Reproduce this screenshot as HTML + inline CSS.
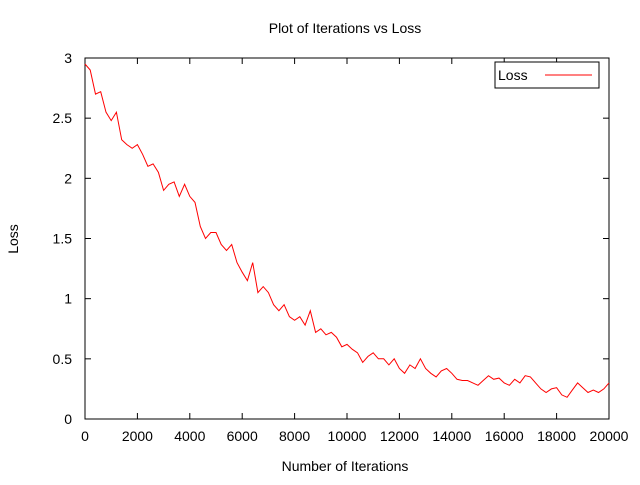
<!DOCTYPE html>
<html><head><meta charset="utf-8"><style>
body{margin:0;background:#fff}
svg text{font-family:"Liberation Sans",sans-serif;font-size:14px;fill:#000}
</style></head><body>
<svg id="chart" width="640" height="480" xmlns="http://www.w3.org/2000/svg">
<rect width="640" height="480" fill="#fff"/>
<text x="345" y="33" text-anchor="middle">Plot of Iterations vs Loss</text>
<text x="345" y="471" text-anchor="middle">Number of Iterations</text>
<text transform="translate(18,239) rotate(-90)" text-anchor="middle">Loss</text>
<g id="axes"></g>
<rect x="85" y="58" width="524" height="361" fill="none" stroke="#000" stroke-width="1"/>
<polyline id="series" fill="none" stroke="#f00" stroke-width="1"/>
<g>
<rect x="495" y="62" width="104" height="26" fill="#fff" stroke="#000"/>
<text x="498" y="80">Loss</text>
<line x1="545" y1="75" x2="592" y2="75" stroke="#f00"/>
</g>
</svg>
<script>
const iterations=[0,200,400,600,800,1000,1200,1400,1600,1800,2000,2200,2400,2600,2800,3000,3200,3400,3600,3800,4000,4200,4400,4600,4800,5000,5200,5400,5600,5800,6000,6200,6400,6600,6800,7000,7200,7400,7600,7800,8000,8200,8400,8600,8800,9000,9200,9400,9600,9800,10000,10200,10400,10600,10800,11000,11200,11400,11600,11800,12000,12200,12400,12600,12800,13000,13200,13400,13600,13800,14000,14200,14400,14600,14800,15000,15200,15400,15600,15800,16000,16200,16400,16600,16800,17000,17200,17400,17600,17800,18000,18200,18400,18600,18800,19000,19200,19400,19600,19800,20000];
const lossValues=[2.95,2.9,2.7,2.72,2.55,2.48,2.55,2.32,2.28,2.25,2.28,2.2,2.1,2.12,2.05,1.9,1.95,1.97,1.85,1.95,1.85,1.8,1.6,1.5,1.55,1.55,1.45,1.4,1.45,1.3,1.22,1.15,1.3,1.05,1.1,1.05,0.95,0.9,0.95,0.85,0.82,0.85,0.78,0.9,0.72,0.75,0.7,0.72,0.68,0.6,0.62,0.58,0.55,0.47,0.52,0.55,0.5,0.5,0.45,0.5,0.42,0.38,0.45,0.42,0.5,0.42,0.38,0.35,0.4,0.42,0.38,0.33,0.32,0.32,0.3,0.28,0.32,0.36,0.33,0.34,0.3,0.28,0.33,0.3,0.36,0.35,0.3,0.25,0.22,0.25,0.26,0.2,0.18,0.24,0.3,0.26,0.22,0.24,0.22,0.25,0.3];
const xTicks=[0,2000,4000,6000,8000,10000,12000,14000,16000,18000,20000];
const yTicks=[0,0.5,1,1.5,2,2.5,3];
const yTickLabels=["0","0.5","1","1.5","2","2.5","3"];
const X0=85,X1=609,Y0=419,Y1=58;
const sx=v=>X0+(v-0)/20000*(X1-X0);
const sy=v=>Y0-(v-0)/3*(Y0-Y1);
const NS="http://www.w3.org/2000/svg";
const axes=document.getElementById('axes');
function mk(tag,attrs){const e=document.createElementNS(NS,tag);for(const k in attrs)e.setAttribute(k,attrs[k]);return e;}
xTicks.forEach(t=>{
  const x=sx(t);
  const a=mk('line',{x1:x,y1:Y0,x2:x,y2:Y0-6,stroke:'#000'});
  
  
  axes.appendChild(a);
  const b=mk('line',{x1:x,y1:Y1,x2:x,y2:Y1+6,stroke:'#000'});
  
  
  axes.appendChild(b);
  const tx=mk('text',{x:x,y:441,'text-anchor':'middle'});
  tx.textContent=String(t);
  
  
  axes.appendChild(tx);
});
yTicks.forEach((t,i)=>{
  const y=sy(t);
  const a=mk('line',{x1:X0,y1:y,x2:X0+6,y2:y,stroke:'#000'});
  
  
  axes.appendChild(a);
  const b=mk('line',{x1:X1,y1:y,x2:X1-6,y2:y,stroke:'#000'});
  
  
  axes.appendChild(b);
  const tx=mk('text',{x:72,y:y+5,'text-anchor':'end'});
  tx.textContent=yTickLabels[i];
  
  
  axes.appendChild(tx);
});
document.getElementById('series').setAttribute('points',iterations.map((v,i)=>sx(v).toFixed(1)+','+sy(lossValues[i]).toFixed(1)).join(' '));
</script>
</body></html>
